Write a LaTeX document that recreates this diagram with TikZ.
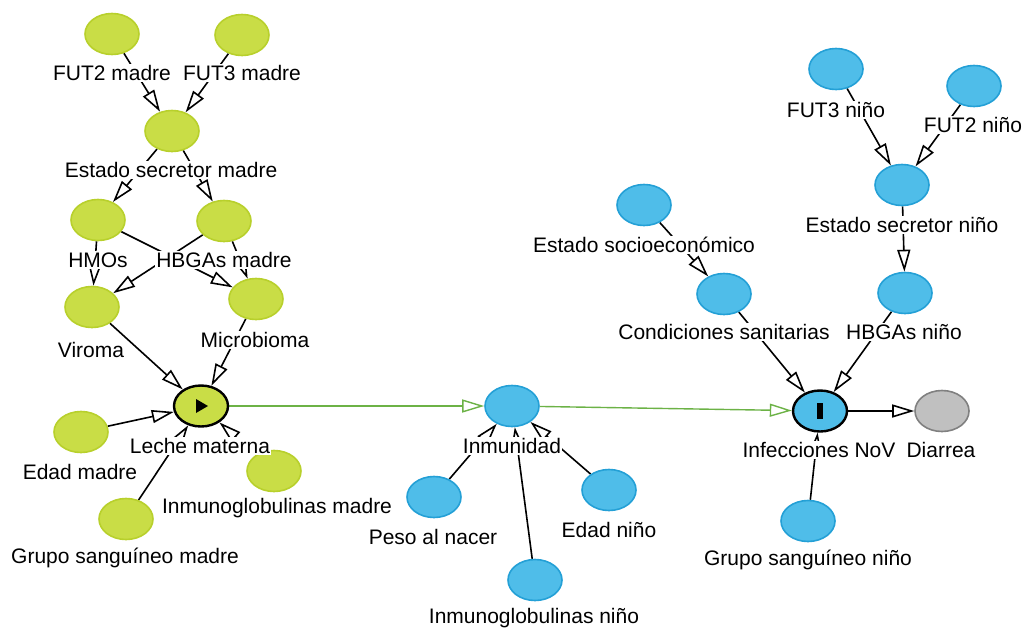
\documentclass[tikz,border=0pt]{standalone}
\usepackage{fontspec}
\setmainfont{Liberation Sans}
\usetikzlibrary{shapes.geometric,arrows.meta}
\pgfdeclarelayer{bg}
\pgfsetlayers{bg,main}
\definecolor{ggreen}{RGB}{201,221,70}
\definecolor{ggreenb}{RGB}{184,208,44}
\definecolor{bblue}{RGB}{79,189,233}
\definecolor{bblueb}{RGB}{36,160,214}
\definecolor{ggrey}{RGB}{192,192,192}
\definecolor{ggreyb}{RGB}{128,128,128}
\definecolor{egreen}{RGB}{108,178,70}
\begin{document}
\begin{tikzpicture}[x=1pt,y=-1pt,
  var/.style={ellipse, minimum width=54pt, minimum height=41pt, inner sep=0pt, line width=1.6pt},
  anc/.style={var, fill=ggreen, draw=ggreenb},
  blu/.style={var, fill=bblue, draw=bblueb},
  gry/.style={var, fill=ggrey, draw=ggreyb},
  expo/.style={var, fill=ggreen, draw=black, line width=2.4pt},
  outc/.style={var, fill=bblue, draw=black, line width=2.4pt},
  lbl/.style={fill=white, inner sep=1.2pt, font=\fontsize{21}{25}\selectfont},
  edge/.style={draw=black, line width=1.6pt, -{Triangle[open,length=22pt,width=13pt]}},
  causal/.style={draw=egreen, line width=1.4pt, -{Triangle[open,length=22pt,width=13pt]}}]
\useasboundingbox (0,0) rectangle (1030,630);

% nodes
\node[anc] (fut2m) at (112,34) {};
\node[anc] (fut3m) at (242,35) {};
\node[anc] (esm) at (172,131) {};
\node[anc] (hmo) at (98,220) {};
\node[anc] (hbgam) at (224,221) {};
\node[anc] (vir) at (92,307) {};
\node[anc] (mic) at (256,299) {};
\node[expo] (lm) at (201,406) {};
\node[anc] (edm) at (81,432) {};
\node[anc] (igm) at (274,471) {};
\node[anc] (gsm) at (126,519) {};

\node[blu] (inm) at (512,406) {};
\node[blu] (pes) at (434,497) {};
\node[blu] (edn) at (609,490) {};
\node[blu] (ign) at (535,580) {};

\node[blu] (ses) at (644,205) {};
\node[blu] (csa) at (724,294) {};
\node[blu] (hbgan) at (905,293) {};
\node[blu] (fut3n) at (836,69) {};
\node[blu] (fut2n) at (974,86) {};
\node[blu] (esn) at (902,185) {};
\node[outc] (inf) at (820,411) {};
\node[gry] (dia) at (942,411) {};
\node[blu] (gsn) at (808,521) {};

\fill[shift={(lm.center)}] (-5,-7) -- (7,0) -- (-5,7) -- cycle;
\fill[shift={(inf.center)}] (-2.6,-8) rectangle (2.6,8);

% edges
\begin{pgfonlayer}{bg}
\draw[edge] (fut2m) -- (esm);
\draw[edge] (fut3m) -- (esm);
\draw[edge] (esm) -- (hmo);
\draw[edge] (esm) -- (hbgam);
\draw[edge] (hmo) -- (vir);
\draw[edge] (hmo) -- (mic);
\draw[edge] (hbgam) -- (vir);
\draw[edge] (hbgam) -- (mic);
\draw[edge] (vir) -- (lm);
\draw[edge] (mic) -- (lm);
\draw[edge] (edm) -- (lm);
\draw[edge] (gsm) -- (lm);
\draw[edge] (igm) -- (lm);
\draw[causal] (lm) -- (inm);
\draw[causal] (inm) -- (inf);
\draw[edge] (pes) -- (inm);
\draw[edge] (ign) -- (inm);
\draw[edge] (edn) -- (inm);
\draw[edge] (ses) -- (csa);
\draw[edge] (csa) -- (inf);
\draw[edge] (hbgan) -- (inf);
\draw[edge] (fut3n) -- (esn);
\draw[edge] (fut2n) -- (esn);
\draw[edge] (esn) -- (hbgan);
\draw[edge] (inf) -- (dia);
\draw[edge] (gsn) -- (inf);
\end{pgfonlayer}

% labels
\node[lbl] (lfut2m) at (112,73) {FUT2 madre};
\node[lbl] (lfut3m) at (242,73) {FUT3 madre};
\node[lbl] (lesm) at (171,170) {Estado secretor madre};
\node[lbl] (lhmo) at (98,260) {HMOs};
\node[lbl] (lhbgam) at (224,260) {HBGAs madre};
\node[lbl] (lvir) at (91,350) {Viroma};
\node[lbl] (lmic) at (255,340) {Microbioma};
\node[lbl] (llm) at (200,446) {Leche materna};
\node[lbl] (ledm) at (80,472) {Edad madre};
\node[lbl] (ligm) at (277,508) {Inmunoglobulinas madre};
\node[lbl] (lgsm) at (125,558) {Grupo sanguíneo madre};
\node[lbl] (linm) at (512,446) {Inmunidad};
\node[lbl] (lpes) at (433,537) {Peso al nacer};
\node[lbl] (ledn) at (609,530) {Edad niño};
\node[lbl] (lign) at (534,618) {Inmunoglobulinas niño};
\node[lbl] (lses) at (644,245) {Estado socioeconómico};
\node[lbl] (lcsa) at (724,332) {Condiciones sanitarias};
\node[lbl] (lhbgan) at (904,332) {HBGAs niño};
\node[lbl] (lfut3n) at (836,110) {FUT3 niño};
\node[lbl] (lfut2n) at (973,125) {FUT2 niño};
\node[lbl] (lesn) at (902,225) {Estado secretor niño};
\node[lbl] (linf) at (819,450) {Infecciones NoV};
\node[lbl] (ldia) at (941,450) {Diarrea};
\node[lbl] (lgsn) at (808,560) {Grupo sanguíneo niño};
\end{tikzpicture}
\end{document}
